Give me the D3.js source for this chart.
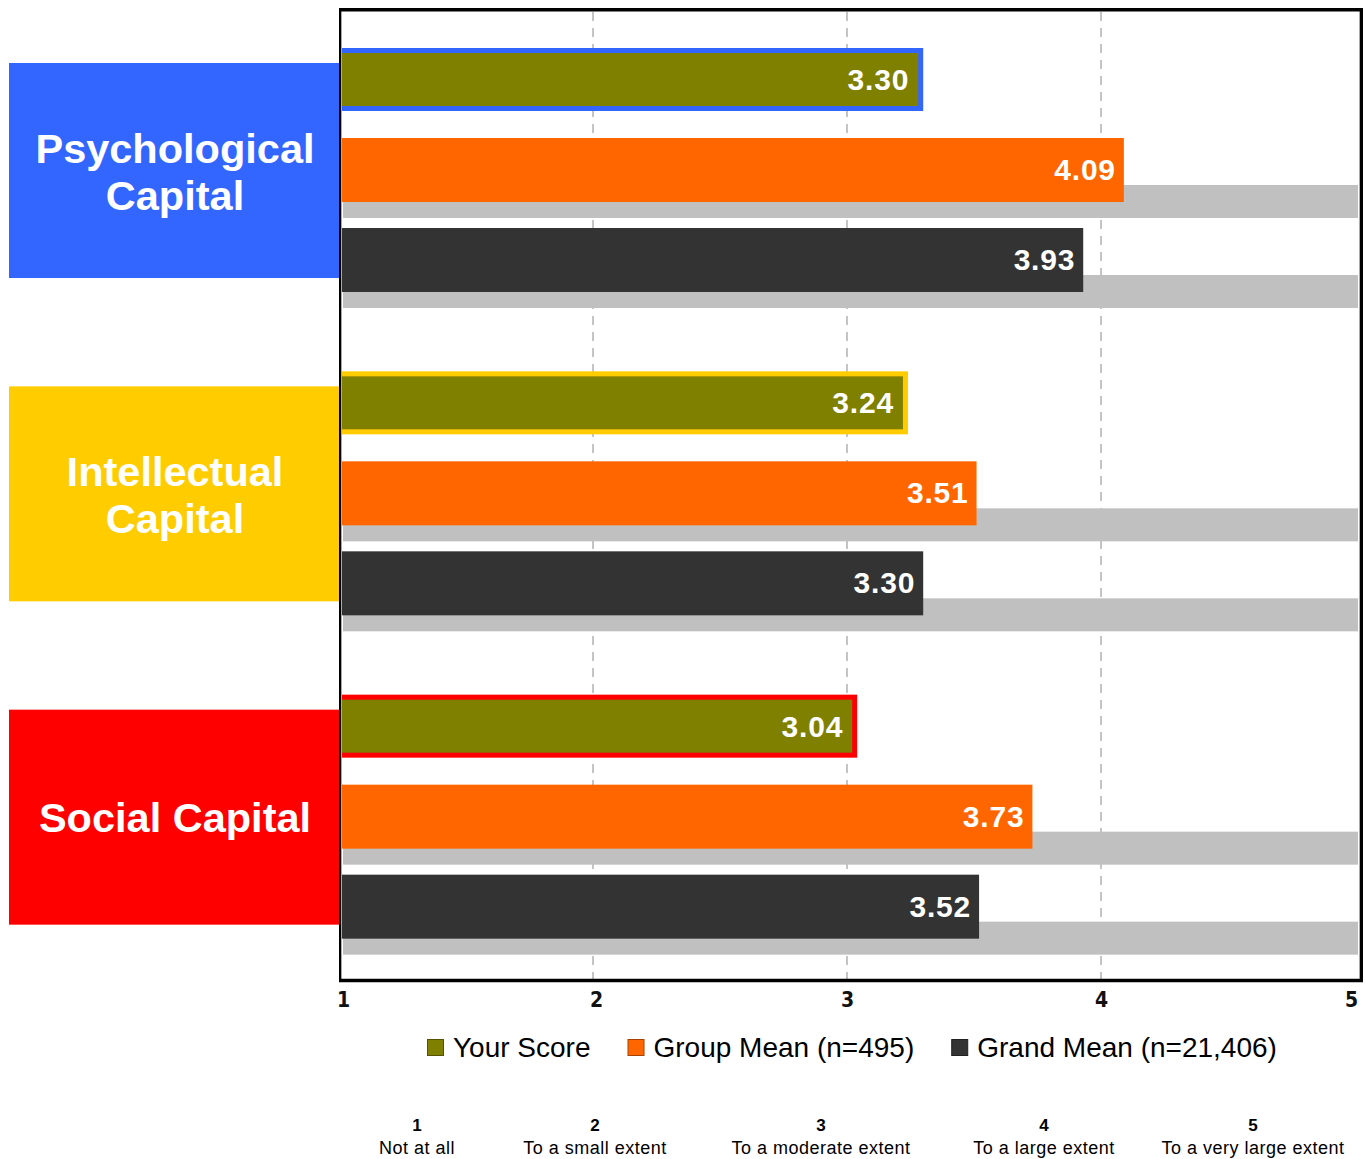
<!DOCTYPE html>
<html>
<head>
<meta charset="utf-8">
<script src="https://cdn.jsdelivr.net/npm/d3@7"></script>
<style>
  html, body { margin: 0; padding: 0; background: #fff; }
  svg { display: block; }
  .val { font-family: "Liberation Sans", Arial, sans-serif; font-weight: bold; font-size: 30px; fill: #fff; letter-spacing: 0.8px; }
  .cat { font-family: "Liberation Sans", Arial, sans-serif; font-weight: bold; font-size: 41.5px; fill: #fff; }
  .tick { font-family: "DejaVu Sans Condensed", "DejaVu Sans", sans-serif; font-stretch: condensed; font-weight: bold; font-size: 21px; fill: #111; }
  .legend { font-family: "Liberation Sans", Arial, sans-serif; font-size: 28px; fill: #000; }
  .keynum { font-family: "Liberation Sans", Arial, sans-serif; font-weight: bold; font-size: 17px; fill: #000; }
  .keytxt { font-family: "Liberation Sans", Arial, sans-serif; font-size: 18px; fill: #000; letter-spacing: 0.5px; }
</style>
</head>
<body>
<script>
// Capital scores on a 1–5 extent scale
const categories = ["Psychological Capital", "Intellectual Capital", "Social Capital"];
const categoryLines = [["Psychological", "Capital"], ["Intellectual", "Capital"], ["Social Capital"]];
const seriesNames = ["Your Score", "Group Mean (n=495)", "Grand Mean (n=21,406)"];
const yourScore = [3.30, 3.24, 3.04];
const groupMean = [4.09, 3.51, 3.73];
const grandMean = [3.93, 3.30, 3.52];
const axisTicks = [1, 2, 3, 4, 5];
const scaleAnchors = ["Not at all", "To a small extent", "To a moderate extent", "To a large extent", "To a very large extent"];

const categoryColors = ["#3366FF", "#FFCC00", "#FF0000"];
const seriesColors = ["#808000", "#FF6600", "#333333"];
const seriesValues = [yourScore, groupMean, grandMean];

const W = 1365, H = 1159;
const svg = d3.select("body").append("svg").attr("width", W).attr("height", H);

const x = d3.scaleLinear().domain([1, 5]).range([339, 1355]);
const yGroup = d3.scaleBand().domain(categories).range([9, 979]);
const ySeries = d3.scaleBand().domain(seriesNames).range([39, 283]).paddingInner(26 / 90);
const bh = ySeries.bandwidth();

// dashed vertical grid
svg.append("g").selectAll("line").data(axisTicks.slice(1, -1)).join("line")
  .attr("x1", d => x(d)).attr("x2", d => x(d))
  .attr("y1", 12).attr("y2", 979)
  .attr("stroke", "#c4c4c4").attr("stroke-width", 2).attr("stroke-dasharray", "9,7");

// category label boxes
const catG = svg.append("g").selectAll("g").data(categories).join("g")
  .attr("transform", d => `translate(0,${yGroup(d)})`);
catG.append("rect").attr("x", 9).attr("y", 54).attr("width", 330).attr("height", 215)
  .attr("fill", (d, i) => categoryColors[i]);
catG.append("text").attr("class", "cat").attr("text-anchor", "middle")
  .selectAll("tspan").data((d, i) => categoryLines[i].map((t, j, a) => ({ t, j, n: a.length })))
  .join("tspan")
  .attr("x", 175)
  .attr("y", d => 161.5 + 16 + (d.j - (d.n - 1) / 2) * 47 + (d.n === 1 ? -1 : 0))
  .text(d => d.t);

// bars per category
categories.forEach((cat, ci) => {
  const g = svg.append("g").attr("transform", `translate(0,${yGroup(cat)})`);
  // grey backdrop for the two mean bars
  seriesNames.slice(1).forEach(s => {
    g.append("rect")
      .attr("x", x(1) + 4).attr("width", x(5) + 3 - x(1) - 4)
      .attr("y", ySeries(s) + 47).attr("height", 33)
      .attr("fill", "#c0c0c0");
  });
  seriesNames.forEach((s, si) => {
    const v = seriesValues[si][ci];
    const y0 = ySeries(s);
    if (si === 0) {
      // own score: olive bar framed in the category colour
      g.append("rect").attr("x", x(1)).attr("y", y0).attr("width", x(v) - x(1)).attr("height", bh - 1)
        .attr("fill", categoryColors[ci]);
      g.append("rect").attr("x", x(1)).attr("y", y0 + 5).attr("width", x(v) - x(1) - 5).attr("height", bh - 11)
        .attr("fill", seriesColors[0]);
    } else {
      g.append("rect").attr("x", x(1)).attr("y", y0).attr("width", x(v) - x(1)).attr("height", bh)
        .attr("fill", seriesColors[si]);
    }
    g.append("text").attr("class", "val").attr("text-anchor", "end")
      .attr("x", x(v) - (si === 0 ? 14 : 8))
      .attr("y", y0 + bh / 2 + 10)
      .text(v.toFixed(2));
  });
});

// frame
svg.append("line").attr("x1", 341.5).attr("x2", 341.5).attr("y1", 11).attr("y2", 979).attr("stroke", "#aaa").attr("stroke-width", 1);
svg.append("line").attr("x1", 1359.5).attr("x2", 1359.5).attr("y1", 11).attr("y2", 979).attr("stroke", "#aaa").attr("stroke-width", 1);
svg.append("line").attr("x1", 340).attr("x2", 340).attr("y1", 8).attr("y2", 982).attr("stroke", "#000").attr("stroke-width", 2);
svg.append("line").attr("x1", 1361.5).attr("x2", 1361.5).attr("y1", 8).attr("y2", 982).attr("stroke", "#000").attr("stroke-width", 3);
svg.append("line").attr("x1", 339).attr("x2", 1363).attr("y1", 9.75).attr("y2", 9.75).attr("stroke", "#000").attr("stroke-width", 3.5);

// bottom axis
const axis = svg.append("g").attr("transform", "translate(0,980.5)")
  .call(d3.axisBottom(x).tickValues(axisTicks).tickFormat(d3.format("d")).tickSize(0).tickPadding(0));
axis.select(".domain").attr("stroke", "#000").attr("stroke-width", 3.5).attr("d", "M339,0H1363");
axis.selectAll(".tick text").attr("class", "tick").attr("dy", null).attr("y", 26)
  .attr("fill", null).attr("font-size", null).attr("font-family", null)
  .attr("x", d => d === 1 ? 4 : d === 5 ? -4 : (d === 2 ? 3 : 0));
axis.attr("font-size", null).attr("font-family", null);

// legend
const legend = svg.append("g");
let lx = 427;
seriesNames.forEach((s, i) => {
  legend.append("rect").attr("x", lx + 0.5).attr("y", 1039.5).attr("width", 16).attr("height", 16)
    .attr("fill", seriesColors[i]).attr("stroke", d3.color(seriesColors[i]).darker(1.2)).attr("stroke-width", 1);
  const t = legend.append("text").attr("class", "legend").attr("x", lx + 26).attr("y", 1057).text(s);
  lx += 26 + t.node().getComputedTextLength() + 37;
});

// scale key
const keyX = [417, 595, 821, 1044, 1253];
const key = svg.append("g").selectAll("g").data(axisTicks).join("g")
  .attr("transform", (d, i) => `translate(${keyX[i]},0)`);
key.append("text").attr("class", "keynum").attr("text-anchor", "middle").attr("y", 1131).text(d => d);
key.append("text").attr("class", "keytxt").attr("text-anchor", "middle").attr("y", 1154).text((d, i) => scaleAnchors[i]);
</script>
</body>
</html>
